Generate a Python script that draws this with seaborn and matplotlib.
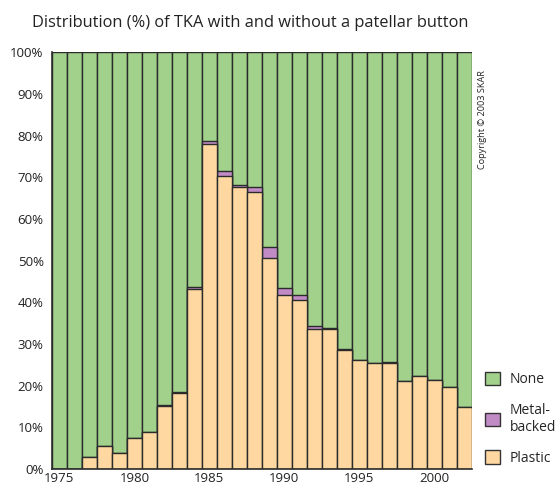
import pandas as pd
import seaborn as sns
import matplotlib.pyplot as plt
from matplotlib.patches import Patch

# data (% of TKA per year)
years = list(range(1975, 2003))
plastic = [0, 0, 2.9, 5.6, 3.9, 7.4, 9.0, 15.1, 18.2, 43.2, 78.0, 70.3, 67.8, 66.5,
           50.7, 41.7, 40.5, 33.6, 33.7, 28.5, 26.1, 25.5, 25.5, 21.1, 22.4, 21.3, 19.6, 15.0]
metal = [0, 0, 0, 0, 0, 0, 0, 0.2, 0.4, 0.4, 0.7, 1.2, 0.3, 1.2,
         2.6, 1.7, 1.2, 0.8, 0.2, 0.3, 0, 0, 0.3, 0, 0, 0, 0, 0]
none = [100 - p - m for p, m in zip(plastic, metal)]

df = pd.DataFrame({'Year': years, 'Plastic': plastic, 'Metal': metal, 'None': none})
df['PM'] = df['Plastic'] + df['Metal']
df['Total'] = df['PM'] + df['None']

green = '#a1d18b'
purple = '#c18bc5'
orange = '#fed8a0'
edge = '#2b2b2b'

sns.set_style('white')
plt.rcParams['font.family'] = ['Open Sans', 'DejaVu Sans']

fig = plt.figure(figsize=(5.59, 4.86), dpi=100)
ax = fig.add_axes([0.093, 0.035, 0.751, 0.857])

# stacked bars: draw the cumulative totals back to front
for col, c in [('Total', green), ('PM', purple), ('Plastic', orange)]:
    sns.barplot(data=df, x='Year', y=col, color=c, width=1.0, saturation=1,
                edgecolor=edge, linewidth=1.0, ax=ax)

ax.set_xlim(-0.5, len(years) - 0.5)
ax.set_ylim(0, 100)
ax.set_yticks(range(0, 101, 10))
ax.set_yticklabels([f'{v}%' for v in range(0, 101, 10)], fontsize=9.5, color='#222222')
ticks = [i for i, y in enumerate(years) if y % 5 == 0]
ax.set_xticks(ticks)
ax.set_xticklabels([str(years[i]) for i in ticks], fontsize=9.5, color='#222222')
ax.tick_params(axis='y', direction='out', length=4, width=1, color=edge, pad=2)
ax.tick_params(axis='x', length=0, pad=2.5)
ax.set_xlabel('')
ax.set_ylabel('')
for s in ['top', 'right']:
    ax.spines[s].set_visible(False)
for s in ['left', 'bottom']:
    ax.spines[s].set_color(edge)
    ax.spines[s].set_linewidth(1.2)

fig.text(0.447, 0.953, 'Distribution (%) of TKA with and without a patellar button',
         ha='center', va='center', fontsize=11.8, color='#222222')
fig.text(0.864, 0.753, 'Copyright \u00a9 2003 SKAR', rotation=90, ha='center', va='center',
         fontsize=6.6, color='#222222')

handles = [Patch(facecolor=green, edgecolor='#333333'),
           Patch(facecolor=purple, edgecolor='#333333'),
           Patch(facecolor=orange, edgecolor='#333333')]
fig.legend(handles, ['None', 'Metal-\nbacked', 'Plastic'], loc='upper left',
           bbox_to_anchor=(0.868, 0.235), frameon=False, fontsize=10,
           handlelength=1.08, handleheight=1.08, labelspacing=1.12, handletextpad=0.7,
           borderaxespad=0, borderpad=0)

plt.savefig('out.png', dpi=100)
